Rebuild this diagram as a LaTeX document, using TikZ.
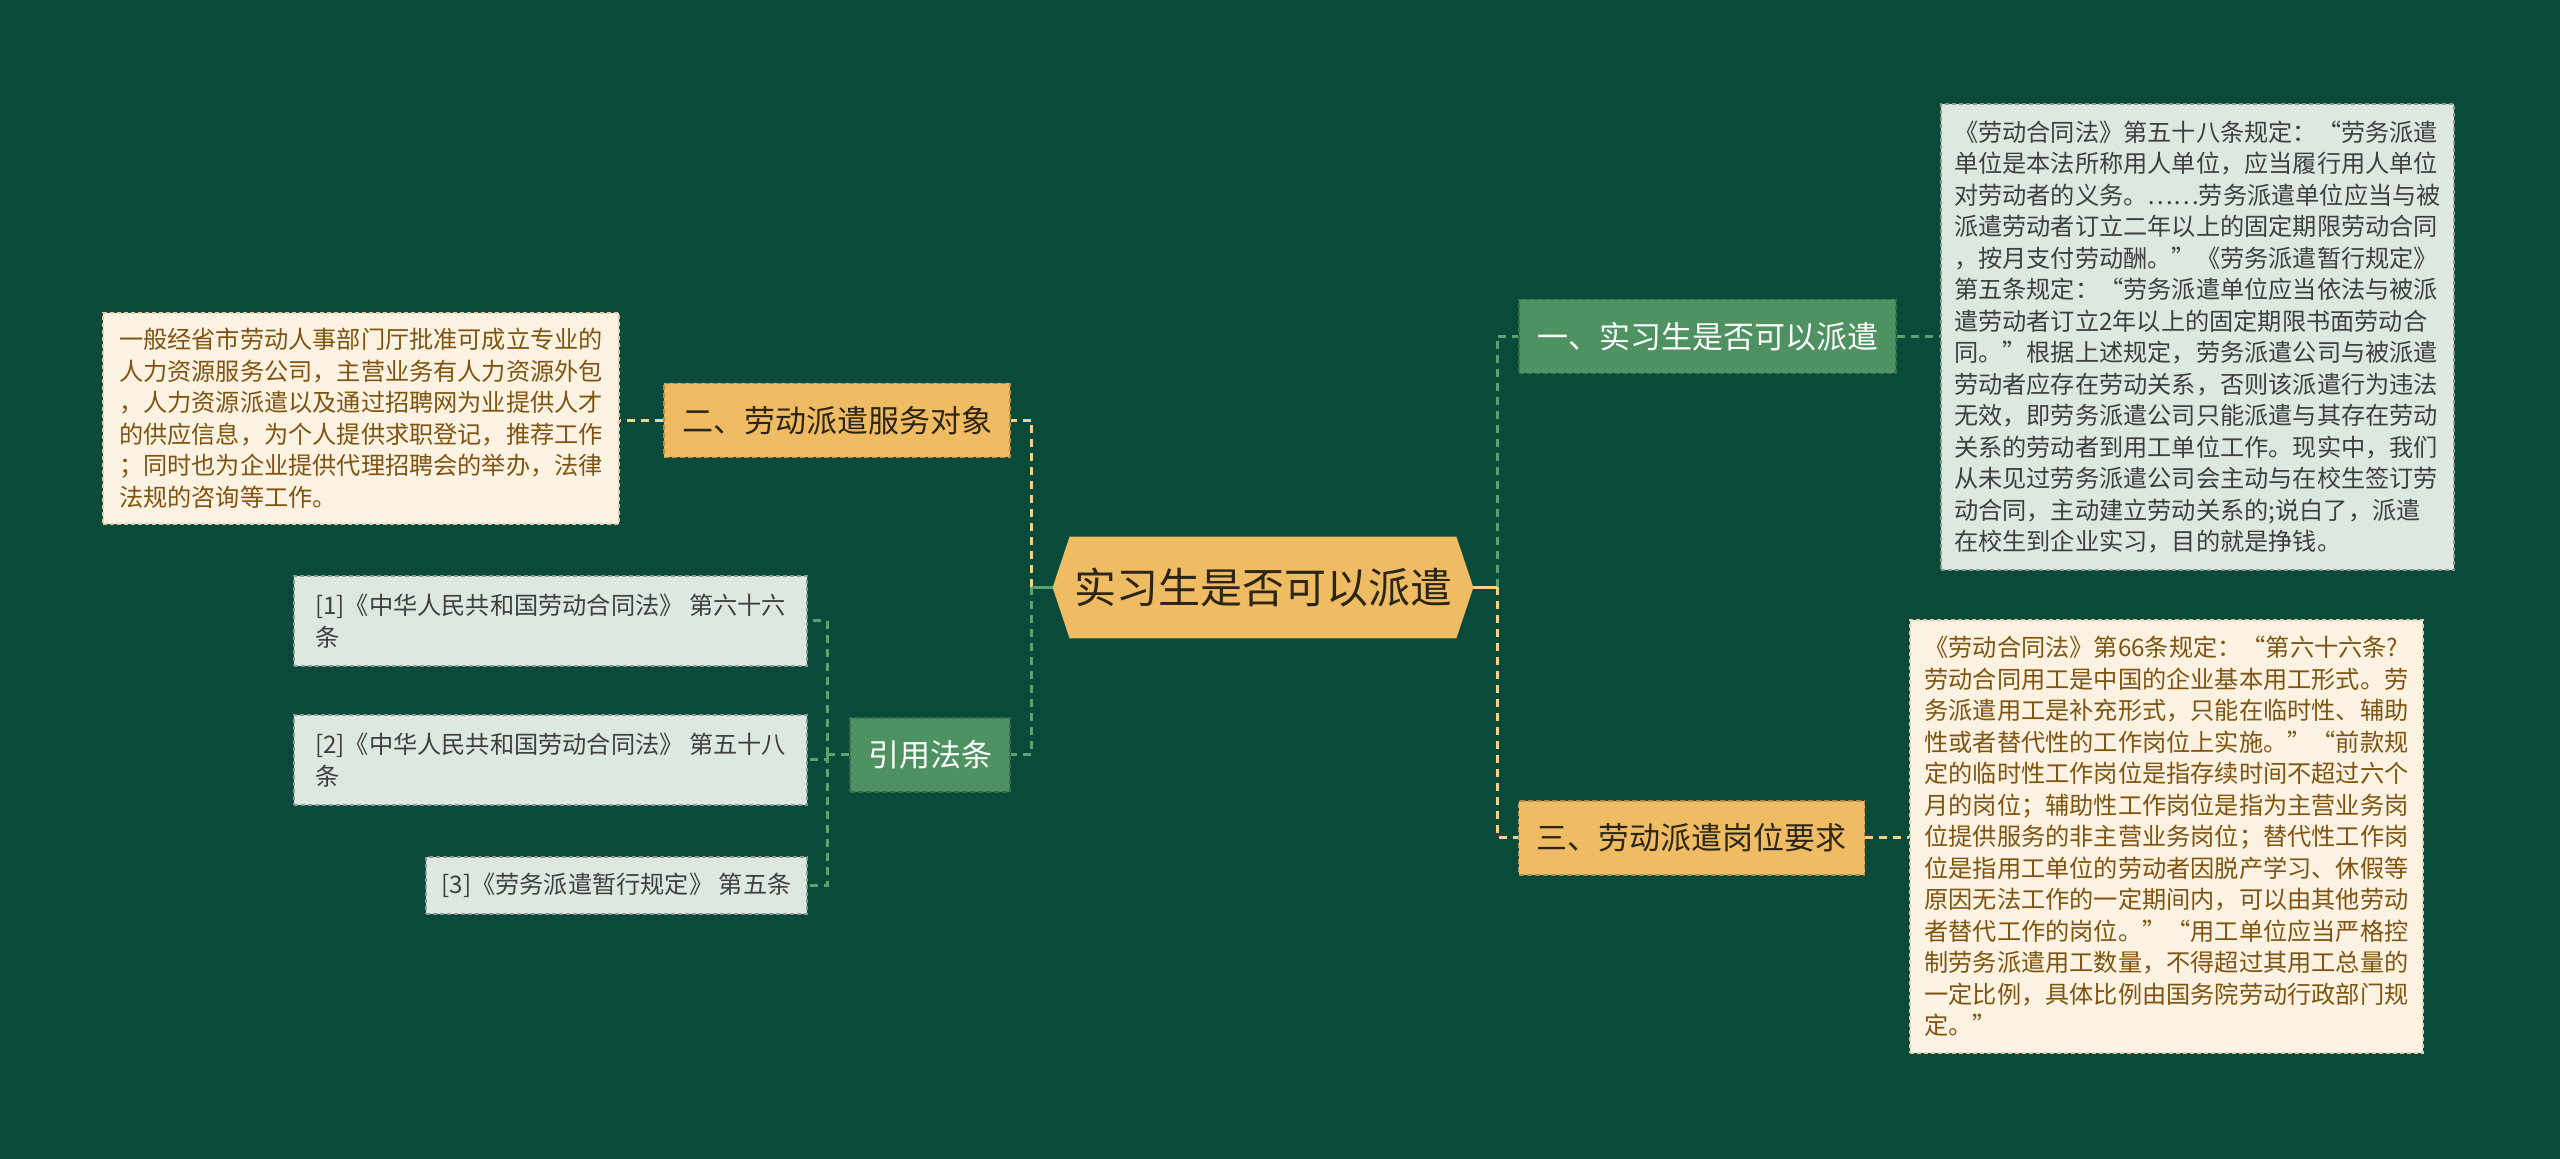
\documentclass[tikz,border=0pt]{standalone}
\usepackage{fontspec}
\setmainfont{Noto Sans CJK SC}
\usepackage{tikz}
\usetikzlibrary{
  backgrounds,
  calc
}
\definecolor{bgdark}{HTML}{0A4A3A}
\definecolor{nodegreen}{HTML}{4E9262}
\definecolor{nodeorange}{HTML}{F0BC63}
\definecolor{boxmint}{HTML}{DDE9E0}
\definecolor{boxcream}{HTML}{FCF2E2}
\definecolor{linegreen}{HTML}{5CA270}
\definecolor{lineyellow}{HTML}{EFD38C}
\definecolor{inkdark}{HTML}{2B2618}
\definecolor{inkgrey}{HTML}{3F3F3F}
\definecolor{inkbrown}{HTML}{7E5410}

\tikzset{
  topic/.style={minimum height=37pt, inner xsep=9pt, font=\fontsize{15.5}{18}\selectfont,
    draw, dash pattern=on 2.5pt off 1.5pt, line width=0.6pt},
  greentopic/.style={topic, fill=nodegreen, draw=nodegreen!75!black, text=white},
  orangetopic/.style={topic, fill=nodeorange, draw=nodeorange!75!black, text=inkdark},
  note/.style={align=left, font=\fontsize{12.1}{15.75}\selectfont, inner sep=3pt,
    draw, dash pattern=on 2pt off 1.5pt, line width=0.6pt},
  mintnote/.style={note, fill=boxmint, draw=boxmint!65!black, text=inkgrey},
  creamnote/.style={note, fill=boxcream, draw=boxcream!65!brown, text=inkbrown},
  link/.style={line width=1.5pt, dash pattern=on 4pt off 3pt}
}

\begin{document}
\begin{tikzpicture}[x=0.5pt, y=-0.5pt]
  \node[minimum width=210pt, minimum height=50.5pt, inner sep=0pt,
        font=\fontsize{21}{24}\selectfont, text=inkdark] (ctr) at (1263,587.5) {实习生是否可以派遣};
  \begin{scope}[on background layer]
    \fill[bgdark] (0,0) rectangle (2560,1159);
    \fill[nodeorange] (ctr.west) -- ([xshift=8.5pt]ctr.north west) -- ([xshift=-8.5pt]ctr.north east)
      -- (ctr.east) -- ([xshift=-8.5pt]ctr.south east) -- ([xshift=8.5pt]ctr.south west) -- cycle;
  \end{scope}

  \node[greentopic] (one) at (1707.5,336.5) {一、实习生是否可以派遣};
  \node[orangetopic] (three) at (1691.5,838) {三、劳动派遣岗位要求};
  \node[orangetopic] (two) at (837,420.5) {二、劳动派遣服务对象};
  \node[greentopic] (law) at (930,755) {引用法条};

  \node[mintnote, minimum width=256.5pt, minimum height=233pt] (txtone) at (2197.5,337) {%
    《劳动合同法》第五十八条规定：“劳务派遣\\
    单位是本法所称用人单位，应当履行用人单位\\
    对劳动者的义务。……劳务派遣单位应当与被\\
    派遣劳动者订立二年以上的固定期限劳动合同\\
    ，按月支付劳动酬。”《劳务派遣暂行规定》\\
    第五条规定：“劳务派遣单位应当依法与被派\\
    遣劳动者订立2年以上的固定期限书面劳动合\\
    同。”根据上述规定，劳务派遣公司与被派遣\\
    劳动者应存在劳动关系，否则该派遣行为违法\\
    无效，即劳务派遣公司只能派遣与其存在劳动\\
    关系的劳动者到用工单位工作。现实中，我们\\
    从未见过劳务派遣公司会主动与在校生签订劳\\
    动合同，主动建立劳动关系的;说白了，派遣\\
    在校生到企业实习，目的就是挣钱。};

  \node[creamnote, minimum width=256.5pt, minimum height=216.5pt] (txttwo) at (2166.5,836.5) {%
    《劳动合同法》第66条规定：“第六十六条?\\
    劳动合同用工是中国的企业基本用工形式。劳\\
    务派遣用工是补充形式，只能在临时性、辅助\\
    性或者替代性的工作岗位上实施。”“前款规\\
    定的临时性工作岗位是指存续时间不超过六个\\
    月的岗位；辅助性工作岗位是指为主营业务岗\\
    位提供服务的非主营业务岗位；替代性工作岗\\
    位是指用工单位的劳动者因脱产学习、休假等\\
    原因无法工作的一定期间内，可以由其他劳动\\
    者替代工作的岗位。”“用工单位应当严格控\\
    制劳务派遣用工数量，不得超过其用工总量的\\
    一定比例，具体比例由国务院劳动行政部门规\\
    定。”};

  \node[creamnote, minimum width=258pt, minimum height=105.5pt] (txtleft) at (361,418.5) {%
    一般经省市劳动人事部门厅批准可成立专业的\\
    人力资源服务公司，主营业务有人力资源外包\\
    ，人力资源派遣以及通过招聘网为业提供人才\\
    的供应信息，为个人提供求职登记，推荐工作\\
    ；同时也为企业提供代理招聘会的举办，法律\\
    法规的咨询等工作。};

  \node[mintnote, minimum width=256.5pt, minimum height=45pt] (refa) at (550.5,621) {%
    [1]《中华人民共和国劳动合同法》 第六十六\\条};
  \node[mintnote, minimum width=256.5pt, minimum height=45pt] (refb) at (550.5,760) {%
    [2]《中华人民共和国劳动合同法》 第五十八\\条};
  \node[mintnote, minimum width=190.5pt, minimum height=28.5pt, inner xsep=1pt] (refc) at (616.5,885.5) {%
    [3]《劳务派遣暂行规定》 第五条};

  \coordinate (rj) at ([xshift=12pt]ctr.east);
  \coordinate (lj) at ([xshift=-10.5pt]ctr.west);
  \coordinate (lawj) at ([xshift=-11pt]law.west);

  \foreach \kid/\col in {one/linegreen, three/lineyellow}
    \draw[link, \col] (rj) |- (\kid.west);
  \foreach \kid/\col in {two/lineyellow, law/linegreen}
    \draw[link, \col] (lj) |- (\kid.east);
  \draw[lineyellow, line width=1.5pt] (ctr.east) -- (rj);
  \draw[linegreen, line width=1.5pt] (ctr.west) -- (lj);

  \draw[link, linegreen] (one.east) -- (one.east -| txtone.west);
  \draw[link, lineyellow] (three.east) -- (three.east -| txttwo.west);
  \draw[link, lineyellow] (two.west) -- (two.west -| txtleft.east);

  \draw[link, linegreen] (law.west) -- (lawj);
  \foreach \r in {refa, refb, refc}
    \draw[link, linegreen] (lawj) |- (\r.east);
\end{tikzpicture}
\end{document}
